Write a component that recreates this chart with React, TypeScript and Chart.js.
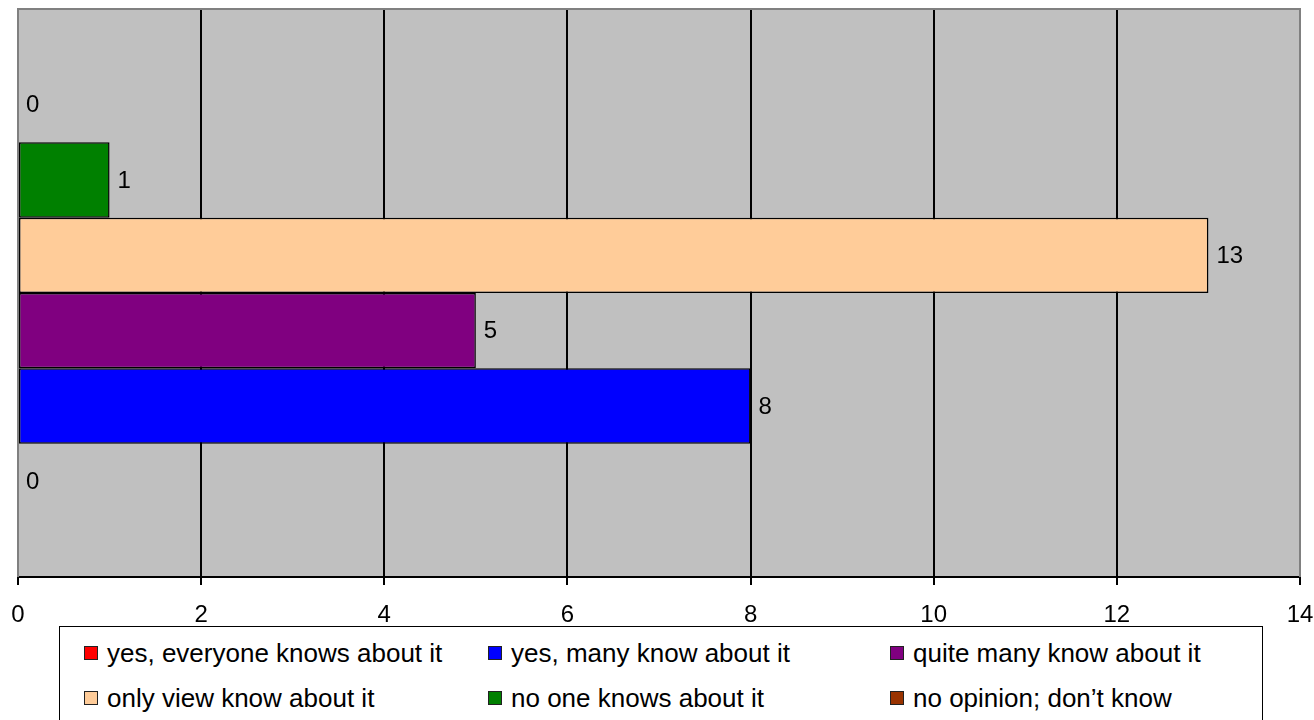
import React, { useEffect, useRef } from "react";
import { Chart, registerables } from "chart.js";

Chart.register(...registerables);

const categories = [""];
const seriesNames = [
  "yes, everyone knows about it",
  "yes, many know about it",
  "quite many know about it",
  "only view know about it",
  "no one knows about it",
  "no opinion; don\u2019t know",
];
const seriesValues = [0, 8, 5, 13, 1, 0];
const seriesColors = ["#FF0000", "#0000FF", "#800080", "#FFCC99", "#008000", "#993300"];
const xTicks = [0, 2, 4, 6, 8, 10, 12, 14];

const FONT = "'Liberation Sans', Arial, sans-serif";

export default function App() {
  const ref = useRef<HTMLCanvasElement | null>(null);

  useEffect(() => {
    document.body.style.margin = "0";
    const canvas = ref.current!;
    const datasets = seriesNames
      .map((name, i) => ({
        label: name,
        data: [seriesValues[i]],
        backgroundColor: seriesColors[i],
        borderColor: "#000000",
        borderWidth: 1.5,
        borderSkipped: false as const,
        barPercentage: 1,
        categoryPercentage: 0.796,
      }))
      .reverse();

    const bgPlugin = {
      id: "plotbg",
      beforeDraw(chart: any) {
        const { ctx, chartArea: a } = chart;
        ctx.save();
        ctx.fillStyle = "#C0C0C0";
        ctx.fillRect(a.left, a.top, a.right - a.left, a.bottom - a.top);
        ctx.restore();
      },
      beforeDatasetsDraw(chart: any) {
        const { ctx, chartArea: a } = chart;
        ctx.save();
        ctx.strokeStyle = "#808080";
        ctx.lineWidth = 2;
        ctx.beginPath();
        ctx.moveTo(a.left, a.bottom);
        ctx.lineTo(a.left, a.top);
        ctx.lineTo(a.right, a.top);
        ctx.lineTo(a.right, a.bottom);
        ctx.stroke();
        ctx.restore();
      },
      afterDatasetsDraw(chart: any) {
        const { ctx } = chart;
        ctx.save();
        ctx.font = `24px ${FONT}`;
        ctx.fillStyle = "#000000";
        ctx.textBaseline = "middle";
        ctx.textAlign = "left";
        chart.data.datasets.forEach((ds: any, di: number) => {
          const meta = chart.getDatasetMeta(di);
          meta.data.forEach((el: any, j: number) => {
            ctx.fillText(String(ds.data[j]), el.x + 8, el.y + 1);
          });
        });
        ctx.restore();
      },
    };

    const chart = new Chart(canvas, {
      type: "bar",
      data: { labels: categories, datasets },
      options: {
        indexAxis: "y",
        animation: false,
        responsive: false,
        maintainAspectRatio: false,
        layout: { padding: { left: 18, right: 14, top: 9, bottom: 73 } },
        plugins: {
          legend: { display: false },
          tooltip: { enabled: false },
        },
        scales: {
          y: { display: false },
          x: {
            min: 0,
            max: 14,
            afterBuildTicks(scale: any) {
              scale.ticks = xTicks.map((v) => ({ value: v }));
            },
            afterFit(scale: any) {
              scale.height = 70;
              scale.paddingLeft = 0;
              scale.paddingRight = 0;
            },
            grid: {
              display: true,
              drawOnChartArea: true,
              drawTicks: true,
              tickLength: 8,
              lineWidth: 2,
              color: (c: any) =>
                c.tick && (c.tick.value === 0 || c.tick.value === 14) ? "#808080" : "#000000",
              tickColor: "#000000",
            },
            border: { display: true, color: "#000000", width: 2 },
            ticks: {
              color: "#000000",
              font: { family: FONT, size: 24 },
              padding: 16,
              maxRotation: 0,
            },
          },
        },
      },
      plugins: [bgPlugin],
    } as any);
    return () => chart.destroy();
  }, []);

  const colLeft = [24, 428, 830];
  return (
    <div style={{ position: "absolute", left: 0, top: 0, width: 1314, height: 720, background: "#fff", overflow: "hidden" }}>
      <canvas ref={ref} width={1314} height={720} style={{ position: "absolute", left: 0, top: 0 }} />
      <div
        style={{
          position: "absolute",
          left: 59,
          top: 626,
          width: 1204,
          height: 110,
          border: "1.5px solid #000",
          boxSizing: "border-box",
          background: "#fff",
          fontFamily: FONT,
          fontSize: 26,
          color: "#000",
        }}
      >
        {seriesNames.map((name, i) => {
          const row = Math.floor(i / 3);
          const col = i % 3;
          return (
            <div
              key={name}
              style={{
                position: "absolute",
                left: colLeft[col],
                top: row === 0 ? 26 : 71,
                transform: "translateY(-50%)",
                display: "flex",
                alignItems: "center",
                whiteSpace: "nowrap",
                lineHeight: "30px",
              }}
            >
              <span
                style={{
                  display: "inline-block",
                  width: 12,
                  height: 12,
                  background: seriesColors[i],
                  border: "1.5px solid #222",
                  marginRight: 9,
                }}
              />
              <span>{name}</span>
            </div>
          );
        })}
      </div>
    </div>
  );
}
